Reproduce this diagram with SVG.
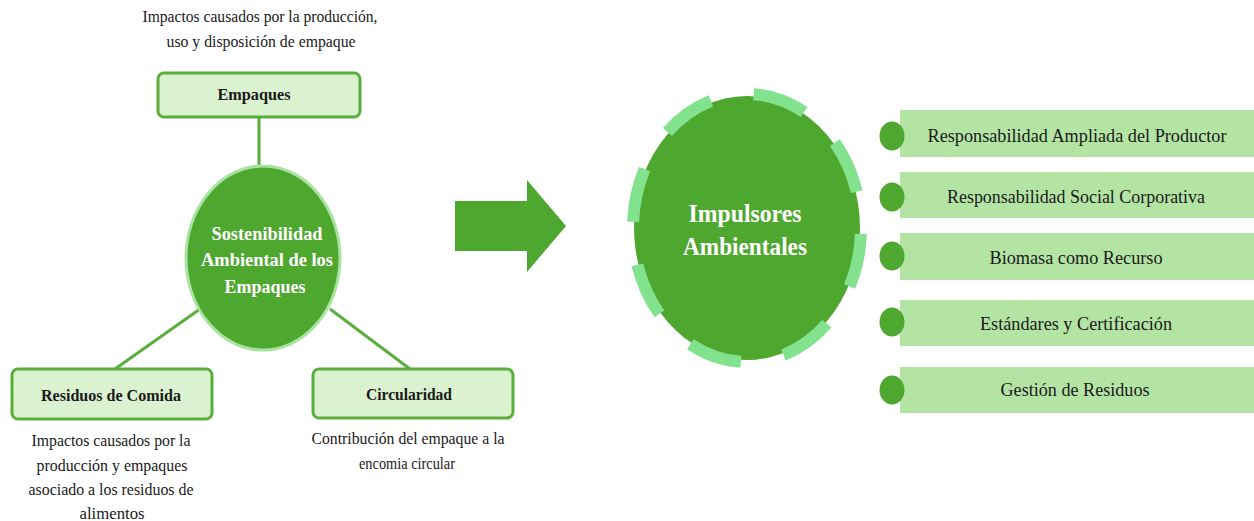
<svg xmlns="http://www.w3.org/2000/svg" width="1254" height="521" viewBox="0 0 1254 521">
<style>
.t{font-family:"Liberation Serif","Times New Roman",serif;fill:#1a1a1a;text-anchor:middle}
.d{font-size:17px}
.b{font-size:17px;font-weight:bold}
.w{fill:#ffffff;font-weight:bold}
.r{font-size:18px}
.box{fill:#daf2d0;stroke:#5aae3c;stroke-width:3}
.bar{fill:#b3e4a4}
.dot{fill:#4ea72e}
.ln{stroke:#5aae3c;stroke-width:3;fill:none}
</style>
<rect width="1254" height="521" fill="#ffffff"/>
<g id="connectors">
<line class="ln" x1="259" y1="117" x2="259" y2="166"/>
<line class="ln" x1="200" y1="309" x2="115" y2="369"/>
<line class="ln" x1="330" y1="309" x2="410" y2="369"/>
<path d="M455 201 L527 201 L527 180 L566 226 L527 272 L527 251 L455 251 Z" fill="#4ea72e"/>
</g>
<g id="note-empaques">
<text class="t d" x="260" y="22" textLength="235" lengthAdjust="spacingAndGlyphs">Impactos causados por la producción,</text>
<text class="t d" x="261" y="47" textLength="189" lengthAdjust="spacingAndGlyphs">uso y disposición  de empaque</text>
</g>
<g id="empaques">
<rect class="box" x="158" y="73" width="202" height="44" rx="6"/>
<text class="t b" x="254" y="100" textLength="73" lengthAdjust="spacingAndGlyphs">Empaques</text>
</g>
<g id="sostenibilidad">
<ellipse cx="263" cy="258" rx="77" ry="92" fill="#4ea72e" stroke="#a8e4a0" stroke-width="3"/>
<text class="t w" x="267" y="240" font-size="19" textLength="111" lengthAdjust="spacingAndGlyphs">Sostenibilidad</text>
<text class="t w" x="267" y="266" font-size="19" textLength="132" lengthAdjust="spacingAndGlyphs">Ambiental de los</text>
<text class="t w" x="265" y="293" font-size="19" textLength="81" lengthAdjust="spacingAndGlyphs">Empaques</text>
</g>
<g id="residuos">
<rect class="box" x="12" y="369" width="200" height="50" rx="6"/>
<text class="t b" x="111" y="401" textLength="140" lengthAdjust="spacingAndGlyphs">Residuos de Comida</text>
</g>
<g id="note-residuos">
<text class="t d" x="111" y="446" textLength="159" lengthAdjust="spacingAndGlyphs">Impactos causados por la</text>
<text class="t d" x="112" y="471" textLength="151" lengthAdjust="spacingAndGlyphs">producción  y empaques</text>
<text class="t d" x="111" y="495" textLength="165" lengthAdjust="spacingAndGlyphs">asociado a los residuos de</text>
<text class="t d" x="112" y="519" textLength="65" lengthAdjust="spacingAndGlyphs">alimentos</text>
</g>
<g id="circularidad">
<rect class="box" x="313" y="369" width="200" height="49" rx="6"/>
<text class="t b" x="409" y="400" textLength="86" lengthAdjust="spacingAndGlyphs">Circularidad</text>
</g>
<g id="note-circularidad">
<text class="t d" x="408" y="444" textLength="193" lengthAdjust="spacingAndGlyphs">Contribución  del empaque a la</text>
<text class="t d" x="407" y="469" textLength="96" lengthAdjust="spacingAndGlyphs">encomia circular</text>
</g>
<g id="impulsores">
<ellipse cx="747" cy="228" rx="113" ry="132" fill="#4ea72e"/>
<ellipse cx="747" cy="228" rx="114" ry="134" fill="none" stroke="#83e28e" stroke-width="12" stroke-dasharray="54 43.6" stroke-dashoffset="-6"/>
<text class="t w" x="745" y="222" font-size="26" textLength="113" lengthAdjust="spacingAndGlyphs">Impulsores</text>
<text class="t w" x="745" y="255" font-size="26" textLength="124" lengthAdjust="spacingAndGlyphs">Ambientales</text>
</g>
<g id="item1">
<rect class="bar" x="900" y="110" width="354" height="47"/>
<ellipse class="dot" cx="892" cy="136" rx="12.5" ry="14.5"/>
<text class="t r" x="1077" y="142" textLength="299" lengthAdjust="spacingAndGlyphs">Responsabilidad Ampliada  del Productor</text>
</g>
<g id="item2">
<rect class="bar" x="900" y="172" width="354" height="46"/>
<ellipse class="dot" cx="892" cy="197" rx="12.5" ry="14.5"/>
<text class="t r" x="1076" y="203" textLength="258" lengthAdjust="spacingAndGlyphs">Responsabilidad Social Corporativa</text>
</g>
<g id="item3">
<rect class="bar" x="900" y="233" width="354" height="47"/>
<ellipse class="dot" cx="892" cy="256" rx="12.5" ry="14.5"/>
<text class="t r" x="1076" y="264" textLength="173" lengthAdjust="spacingAndGlyphs">Biomasa como Recurso</text>
</g>
<g id="item4">
<rect class="bar" x="900" y="300" width="354" height="46"/>
<ellipse class="dot" cx="892" cy="322" rx="12.5" ry="14.5"/>
<text class="t r" x="1076" y="330" textLength="192" lengthAdjust="spacingAndGlyphs">Estándares y Certificación</text>
</g>
<g id="item5">
<rect class="bar" x="900" y="367" width="354" height="46"/>
<ellipse class="dot" cx="892" cy="390" rx="12.5" ry="14.5"/>
<text class="t r" x="1075" y="396" textLength="149" lengthAdjust="spacingAndGlyphs">Gestión de Residuos</text>
</g>
</svg>
